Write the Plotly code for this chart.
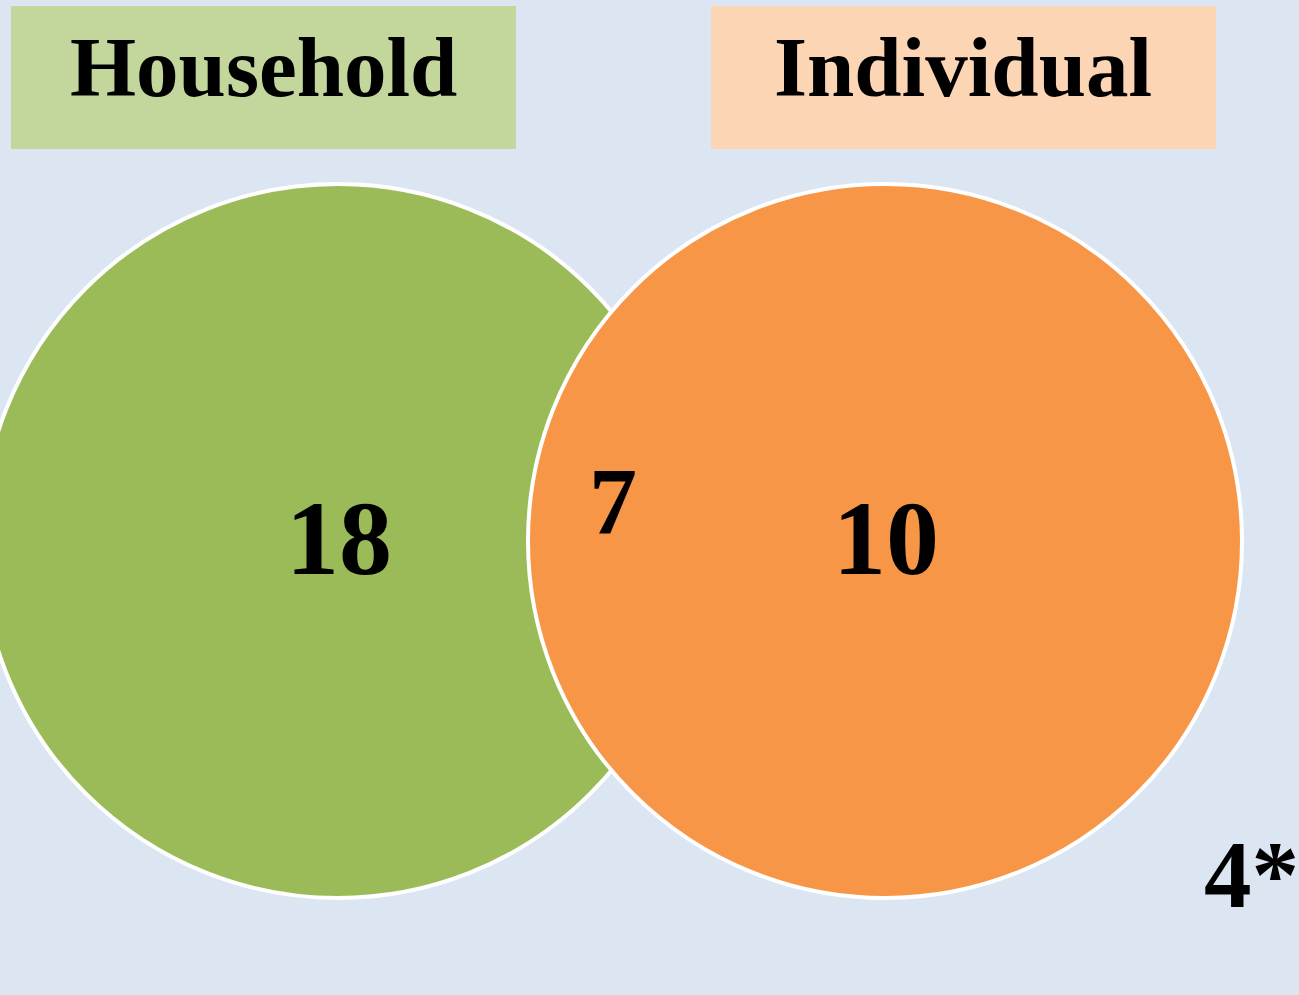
import plotly.graph_objects as go

# set names and counts
set_names = ['Household', 'Individual']
set_counts = [18, 10]
overlap_count = 7
neither_label = '4*'

circle_colors = ['#9BBB59', '#F79646']
box_colors = ['#C3D69B', '#FCD5B5']

W, H = 1299, 995
centers = [(338, 541), (885, 541)]
radius = 357
box_x = [(11, 516), (711, 1216)]

fig = go.Figure()

# circles (green first so orange sits on top)
for (cx, cy), col in zip(centers, circle_colors):
    fig.add_shape(type='circle', xref='x', yref='y',
                  x0=cx - radius, x1=cx + radius, y0=cy - radius, y1=cy + radius,
                  fillcolor=col, line=dict(color='white', width=4), layer='above')

# title boxes
for (x0, x1), col, name in zip(box_x, box_colors, set_names):
    fig.add_shape(type='rect', xref='x', yref='y', x0=x0, x1=x1, y0=6, y1=149,
                  fillcolor=col, line=dict(width=0), layer='below')
    fig.add_annotation(x=(x0 + x1) / 2 - 0.5, y=67, text=f'<b>{name}</b>', showarrow=False,
                       xanchor='center', yanchor='middle',
                       font=dict(family='Liberation Serif', size=85, color='black'))

font_num = dict(family='Liberation Serif', color='black')
for (cx, cy), n in zip(centers, set_counts):
    fig.add_annotation(x=cx + 1, y=cy - 3, text=f'<b>{n}</b>', showarrow=False,
                       xanchor='center', yanchor='middle', font=dict(font_num, size=106))
fig.add_annotation(x=613, y=501, text=f'<b>{overlap_count}</b>', showarrow=False,
                   xanchor='center', yanchor='middle', font=dict(font_num, size=96))
fig.add_annotation(x=1202, y=875, text=f'<b>{neither_label}</b>', showarrow=False,
                   xanchor='left', yanchor='middle', font=dict(font_num, size=95))

fig.update_xaxes(range=[0, W], visible=False, fixedrange=True)
fig.update_yaxes(range=[H, 0], visible=False, fixedrange=True)
fig.update_layout(width=W, height=H, margin=dict(l=0, r=0, t=0, b=0),
                  paper_bgcolor='#DCE6F2', plot_bgcolor='#DCE6F2', showlegend=False)

fig.write_html('out.html', config={'displayModeBar': False},
               post_script="document.body.style.margin='0';"
                           "document.body.style.overflow='hidden';"
                           "document.body.style.background='#DCE6F2';")
